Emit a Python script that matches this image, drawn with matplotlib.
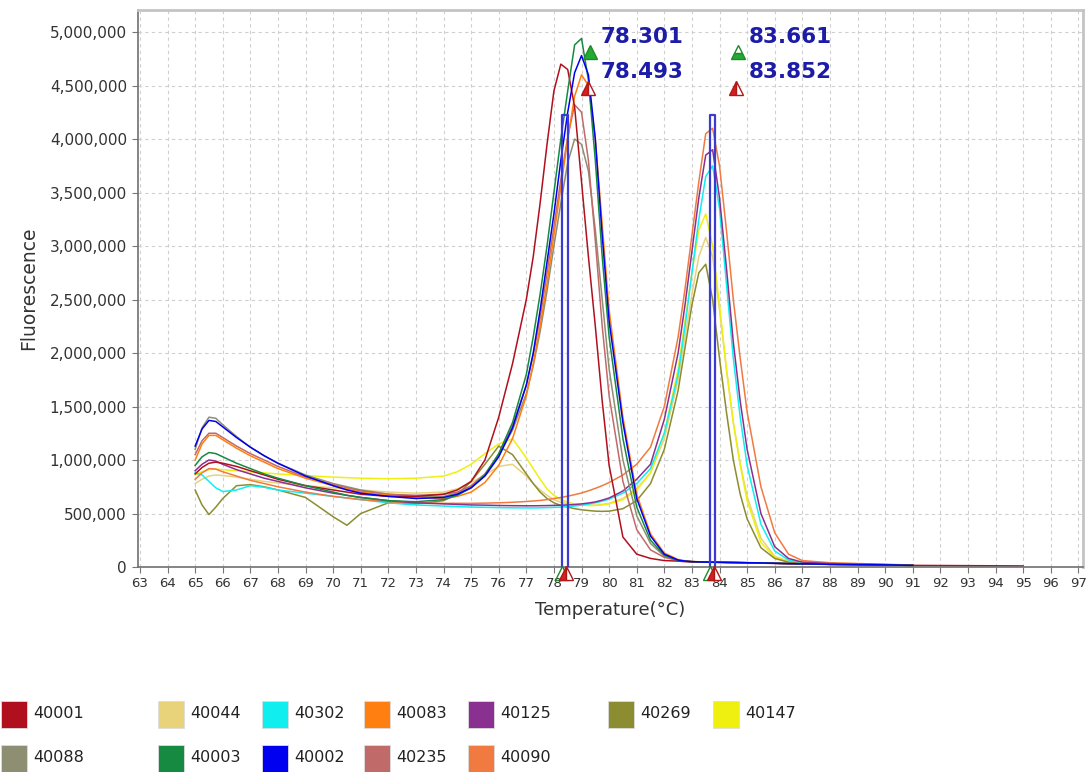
#!/usr/bin/env python3
"""
Melt curve plot - fluorescence vs temperature for 12 samples, two Tm markers
"""

import numpy as np
import matplotlib
matplotlib.use("Agg")
import matplotlib.pyplot as plt
from matplotlib.patches import Rectangle
from matplotlib.ticker import FuncFormatter, MultipleLocator


# ============================================================================
# Data (fluorescence in thousands)
# ============================================================================

temps = [65, 65.25, 65.5, 65.75, 66, 66.5, 67, 67.5, 68,
         69, 70, 70.5, 71, 72, 73, 74,
         74.5, 75, 75.5, 76, 76.5, 77,
         77.25, 77.5, 77.75, 78, 78.25, 78.5, 78.75, 79,
         79.25, 79.5, 79.75, 80, 80.5, 81, 81.5, 82,
         82.5, 82.75, 83, 83.25, 83.5, 83.75, 84, 84.25,
         84.5, 84.75, 85, 85.5, 86, 86.5, 87, 88,
         90, 91, 95]

nan = float("nan")

s40001 = [870, 930, 970, 980, 970, 940, 900, 860, 820,
          760, 720, 700, 680, 660, 660, 680,
          720, 800, 1000, 1400, 1900, 2500,
          2900, 3400, 3950, 4450, 4700, 4650, 4300, 3600,
          2900, 2250, 1550, 950, 280, 120, 80, 60,
          55, 50, 48, 46, 45, 44, 43, 42,
          41, 40, 38, 36, 33, 30, 28, 24,
          18, 15, 10]
s40003 = [950, 1030, 1070, 1060, 1030, 970, 920, 870, 830,
          760, 700, 670, 650, 620, 610, 630,
          670, 740, 860, 1060, 1350, 1800,
          2150, 2550, 3000, 3500, 4000, 4450, 4880, 4940,
          4550, 3800, 2900, 2150, 1200, 560, 250, 110,
          60, 55, 50, 48, 46, 45, 44, 43,
          42, 41, 40, 38, 35, 32, 30, 25,
          20, 15, nan]
s40002 = [1130, 1290, 1370, 1360, 1310, 1210, 1120, 1040, 970,
          850, 760, 720, 690, 660, 640, 650,
          680, 740, 850, 1030, 1300, 1700,
          2000, 2400, 2850, 3300, 3800, 4250, 4620, 4780,
          4600, 4000, 3100, 2300, 1350, 640, 290, 120,
          65, 55, 50, 48, 46, 45, 44, 43,
          42, 41, 40, 38, 35, 32, 30, 25,
          20, 15, nan]
s40083 = [1000, 1150, 1230, 1230, 1190, 1110, 1040, 980, 920,
          830, 760, 730, 700, 670, 650, 640,
          660, 700, 790, 950, 1200, 1600,
          1900, 2250, 2650, 3100, 3550, 4000, 4400, 4600,
          4500, 4000, 3200, 2400, 1400, 680, 310, 130,
          70, 58, 52, 49, 47, 46, 45, 44,
          43, 42, 41, 39, 36, 33, 31, 26,
          21, 16, nan]
s40235 = [1050, 1180, 1250, 1250, 1210, 1130, 1060, 1000, 940,
          840, 770, 740, 710, 680, 670, 680,
          700, 760, 870, 1050, 1320, 1700,
          1980, 2330, 2750, 3180, 3620, 4020, 4320, 4250,
          3800, 3050, 2250, 1600, 800, 350, 160, 90,
          60, 55, 50, 48, 46, 45, 44, 43,
          42, 41, 40, 38, 35, 32, 30, 25,
          20, 15, nan]
s40088 = [1100, 1300, 1400, 1390, 1330, 1220, 1120, 1040, 970,
          860, 780, 750, 720, 680, 660, 660,
          690, 750, 860, 1040, 1280, 1620,
          1880, 2200, 2580, 3000, 3400, 3780, 4000, 3950,
          3700, 3150, 2500, 1850, 1000, 480, 220, 100,
          60, 55, 50, 48, 46, 45, 44, 43,
          42, 41, 40, 38, 35, 32, 30, 25,
          20, 15, nan]
s40125 = [900, 960, 1000, 990, 960, 910, 870, 830, 800,
          740, 690, 670, 650, 620, 600, 590,
          585, 580, 578, 575, 573, 572,
          572, 573, 574, 576, 578, 580, 584, 590,
          598, 608, 625, 645, 710, 820, 960, 1380,
          2000, 2450, 2950, 3450, 3850, 3900, 3450, 2800,
          2100, 1550, 1100, 500, 190, 80, 45, 32,
          22, 15, nan]
s40090 = [820, 880, 920, 915, 890, 850, 810, 780, 750,
          700, 660, 645, 630, 610, 600, 595,
          595, 595, 597, 600, 605, 612,
          617, 622, 630, 640, 650, 662, 676, 692,
          712, 735, 760, 790, 860, 960, 1120, 1500,
          2150, 2600, 3100, 3600, 4050, 4100, 3750, 3150,
          2500, 1950, 1450, 750, 320, 120, 60, 40,
          25, 18, nan]
s40302 = [880, 860, 800, 740, 705, 720, 760, 745, 720,
          690, 660, 645, 630, 600, 580, 570,
          565, 560, 558, 555, 553, 552,
          552, 553, 555, 557, 560, 565, 570, 578,
          588, 600, 615, 635, 690, 780, 920, 1250,
          1800, 2250, 2750, 3250, 3650, 3750, 3350, 2650,
          1950, 1400, 950, 400, 150, 65, 40, 30,
          20, 14, nan]
s40269 = [720, 580, 490, 560, 640, 760, 770, 750, 720,
          650, 470, 390, 500, 600, 590, 620,
          680, 800, 960, 1130, 1050, 870,
          780, 700, 640, 600, 575, 560, 545, 535,
          528, 522, 520, 522, 545, 620, 780, 1100,
          1650, 2050, 2450, 2750, 2830, 2500, 1950, 1450,
          1000, 680, 450, 180, 80, 45, 35, 28,
          20, 14, nan]
s40147 = [860, 890, 910, 915, 910, 900, 890, 880, 870,
          855, 840, 835, 830, 825, 830, 850,
          890, 960, 1060, 1150, 1200, 1020,
          920, 820, 730, 670, 630, 605, 590, 580,
          575, 575, 580, 590, 630, 720, 880, 1250,
          1850, 2300, 2750, 3150, 3300, 3000, 2450, 1850,
          1350, 950, 620, 230, 90, 50, 40, 35,
          25, 18, nan]
s40044 = [780, 820, 850, 860, 855, 840, 820, 800, 785,
          760, 740, 730, 720, 700, 690, 700,
          730, 790, 860, 940, 960, 850,
          780, 720, 670, 630, 605, 590, 582, 578,
          576, 578, 585, 595, 640, 730, 880, 1200,
          1750, 2150, 2550, 2900, 3080, 2900, 2400, 1850,
          1350, 970, 660, 270, 100, 55, 40, 32,
          22, 16, nan]

# legend order (row by row) and colours
legend_rows = [["40001", "40044", "40302", "40083", "40125", "40269", "40147"],
               ["40088", "40003", "40002", "40235", "40090"]]
colors = {
    "40001": "#b0101e", "40088": "#8e8e72", "40044": "#e8d27a",
    "40003": "#168a40", "40302": "#10eef0", "40002": "#0000f0",
    "40083": "#ff7f10", "40235": "#c06a6a", "40125": "#8a3090",
    "40090": "#f07a40", "40269": "#8c8c30", "40147": "#f0f010",
}
series = {
    "40001": s40001, "40088": s40088, "40044": s40044, "40003": s40003,
    "40302": s40302, "40002": s40002, "40083": s40083, "40235": s40235,
    "40125": s40125, "40090": s40090, "40269": s40269, "40147": s40147,
}
draw_order = ["40044", "40147", "40269", "40302", "40090", "40125",
              "40088", "40235", "40083", "40001", "40003", "40002"]

# melt peak markers
tm_labels = [["78.301", "78.493"], ["83.661", "83.852"]]
tm_values = [[78.301, 78.493], [83.661, 83.852]]
marker_top = 4220  # thousands


# ============================================================================
# Plot
# ============================================================================

def thousands(v, pos):
    return f"{int(round(v)):,}"


def main():
    W, H = 1089, 772
    fig = plt.figure(figsize=(W / 100, H / 100), dpi=100)
    ax = fig.add_axes([138 / W, 205 / H, 945 / W, 557 / H])

    t = np.array(temps)
    for name in draw_order:
        vals = np.array(series[name], dtype=float) * 1000
        assert len(vals) == len(t), name
        ax.plot(t, vals, color=colors[name], lw=1.1, solid_joinstyle="round")

    # Tm boxes, triangles and labels
    for (lo, hi), (lab_lo, lab_hi) in zip(tm_values, tm_labels):
        top = marker_top * 1000
        ax.plot([lo, lo, hi, hi], [0, top, top, 0], color="#3b3bd0", lw=1.6, zorder=5)
        tri_x = hi + 0.8
        ax.plot(tri_x, 4.81e6, marker="^", ms=10, mfc="#22aa33", mec="#1d8a2a",
                mfcalt="white", fillstyle="full" if lo < 80 else "bottom", zorder=6)
        ax.plot(tri_x - 0.05, 4.48e6, marker="^", ms=10, mfc="#d42020", mec="#b01818",
                mfcalt="white", fillstyle="left", zorder=6)
        ax.text(tri_x + 0.4, 4.95e6, lab_lo, color="#1c1ca8", fontsize=15.5,
                fontweight="bold", va="center", ha="left")
        ax.text(tri_x + 0.4, 4.63e6, lab_hi, color="#1c1ca8", fontsize=15.5,
                fontweight="bold", va="center", ha="left")
        # markers sitting on the x axis
        ax.plot(lo, -0.06e6, marker="^", ms=10, mfc="none", mec="#1d8a2a",
                clip_on=False, zorder=6)
        ax.plot(hi - 0.05, -0.06e6, marker="^", ms=10, mfc="#d42020", mec="#b01818",
                mfcalt="white", fillstyle="left", clip_on=False, zorder=7)

    ax.set_xlim(62.93, 97.17)
    ax.set_ylim(0, 5.206e6)
    ax.xaxis.set_major_locator(MultipleLocator(1))
    ax.yaxis.set_major_locator(MultipleLocator(500000))
    ax.yaxis.set_major_formatter(FuncFormatter(thousands))

    ax.grid(True, color="#cfcfcf", linestyle=(0, (3, 3)), linewidth=0.8)
    ax.set_axisbelow(True)
    for side in ("top", "right"):
        ax.spines[side].set_color("#c4c4c4")
        ax.spines[side].set_linewidth(2)
    for side in ("left", "bottom"):
        ax.spines[side].set_color("#707070")
        ax.spines[side].set_linewidth(1.2)

    ax.tick_params(axis="x", labelsize=9.5, colors="#777777", labelcolor="#333333",
                   length=4, pad=3)
    ax.tick_params(axis="y", labelsize=11, colors="#777777", labelcolor="#333333",
                   length=4, pad=4)
    ax.set_xlabel("Temperature(°C)", fontsize=13, color="#333333", labelpad=8)
    ax.set_ylabel("Fluorescence", fontsize=13.5, color="#333333", labelpad=8)

    # legend: coloured squares with sample names, laid out like the instrument
    col_x = [1, 158, 262, 364, 468, 608, 713]
    row_y = [714, 758]
    for r, row in enumerate(legend_rows):
        for c, name in enumerate(row):
            x0, yc = col_x[c], row_y[r]
            fig.add_artist(Rectangle((x0 / W, (H - yc - 13.5) / H), 26 / W, 27 / H,
                                     transform=fig.transFigure, facecolor=colors[name],
                                     edgecolor="#dddddd", lw=0.6))
            fig.text((x0 + 32) / W, (H - yc) / H, name, fontsize=11.5,
                     color="#222222", va="center", ha="left")

    fig.savefig("out.png", dpi=100)


if __name__ == "__main__":
    main()
